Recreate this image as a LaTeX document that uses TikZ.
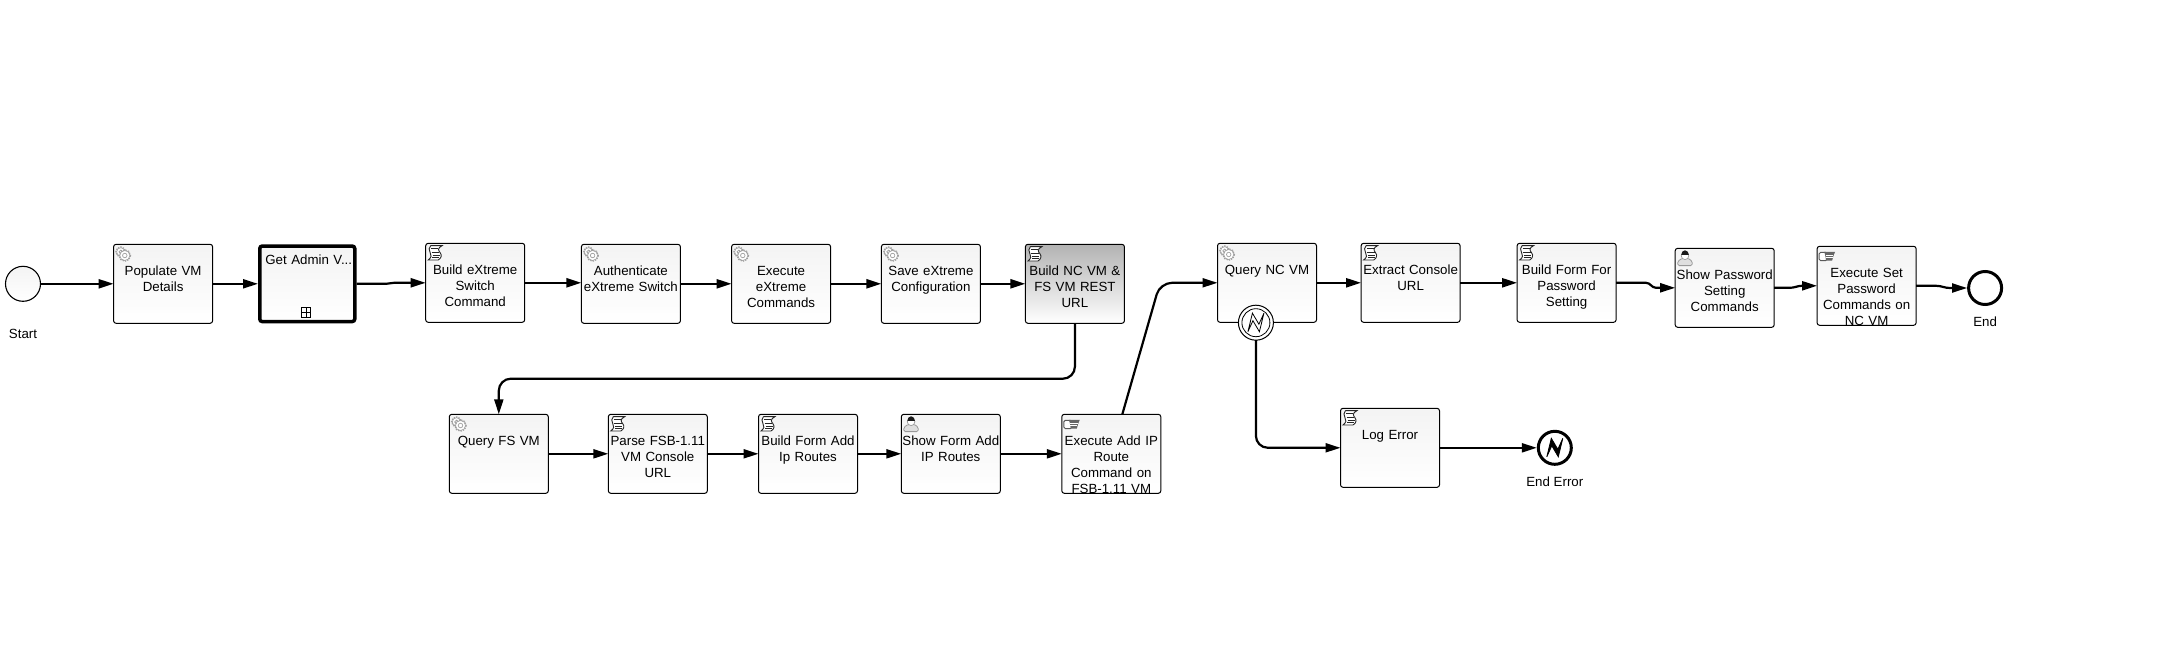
\documentclass[tikz,border=0pt]{standalone}
\usepackage{fontspec}
\setmainfont{Liberation Sans}
\usetikzlibrary{positioning, arrows.meta, calc}

\tikzset{
  pics/gearicon/.style={code={
    \foreach \gx/\gy/\gr in {7.2/7.6/4.2, 11.2/11.2/5} {
      \draw[gray!75,line width=1.5pt,dash pattern=on 1.3pt off 1.1pt] (\gx,\gy) circle (\gr+.6);
      \draw[gray!75,fill=white,line width=.6pt] (\gx,\gy) circle (\gr);
      \draw[gray!75,line width=.7pt] (\gx,\gy) circle (\gr*.45);
    }
  }},
  pics/scripticon/.style={code={
    \draw[black!85,line width=.9pt,fill=white] (5,2.3) -- (16.5,2.3) .. controls (11.5,5) and (12.5,7) .. (14.5,9.5)
      .. controls (16.5,12) and (15.5,15) .. (12.5,16.7) -- (2.5,16.7) .. controls (6,14) and (6,12) .. (4.5,9.5)
      .. controls (3,7) and (3,4) .. (5,2.3);
    \draw[black!85,line width=.9pt] (5.5,5.5) -- (12.5,5.5) (6,9) -- (13.5,9) (7,12) -- (14,12) (6.5,14.5) -- (13.5,14.5);
  }},
  pics/usericon/.style={code={
    \draw[gray!80,fill=gray!25,line width=.8pt,rounded corners=1.5pt] (2.5,17.3) -- (2.5,13) -- (7,10) -- (13,10) -- (17,13) -- (17,17.3) -- cycle;
    \draw[gray!80,fill=white,line width=.7pt] (9.8,7.5) circle (3.8);
    \fill[black!90] (6,6.6) arc (180:360:3.8 and 4.6) -- cycle;
  }},
  pics/sendicon/.style={code={
    \draw[black!65,fill=white,line width=.9pt,rounded corners=1.5pt] (2,6) -- (10,6) -- (10,14.3) -- (2,14.3) -- cycle;
    \fill[black!60] (7,5.5) -- (18,5.5) -- (16.5,9) -- (15,14.3) -- (9,14.3) -- (8,8.5) -- cycle;
    \draw[white,line width=.5pt] (8.5,8.5) -- (16,8.5) (8.5,10.8) -- (15.5,10.8);
  }},
  pics/flashicon/.style={code={
    \draw[black,line width=.8pt,fill=#1] (-8,9) -- (-3.5,-9.5) -- (3,1.5) -- (8,-9.5) -- (3.5,9) -- (-3,-2) -- cycle;
  }},
  pics/plusicon/.style={code={
    \draw[black,line width=.7pt] (-4.8,-4.8) rectangle (4.8,4.8) (-4.8,0) -- (4.8,0) (0,-4.8) -- (0,4.8);
  }}
}

\begin{document}
\begin{tikzpicture}[x=1pt,y=-1pt,
    flow/.style={-{Triangle[length=15pt,width=9pt]},line width=2.2pt},
    tasktext/.style={font=\fontsize{13.3}{16}\selectfont,text width=112pt,align=center,inner sep=0pt,
      minimum width=0pt,minimum height=0pt,anchor=north,rounded corners=0pt},
    task/.style={rectangle,draw,line width=1pt,rounded corners=2.5pt,outer sep=0pt,
      minimum width=99pt,minimum height=79pt,top color=gray!9,bottom color=white,
      path picture={\node[tasktext] at ([yshift=-19.7pt]path picture bounding box.north) {\strut#1};}},
    hottask/.style={task={#1},top color=gray!60,bottom color=white},
    subtask/.style={rectangle,draw,line width=3.5pt,rounded corners=2.5pt,outer sep=1.75pt,
      minimum width=95pt,minimum height=75.5pt,top color=gray!9,bottom color=white,
      path picture={\node[tasktext] at ([xshift=1.5pt,yshift=-5pt]path picture bounding box.north) {\strut#1};}},
    startevent/.style={circle,draw,line width=1.1pt,outer sep=0pt,inner sep=0pt,minimum size=35pt,top color=gray!9,bottom color=white},
    endevent/.style={circle,draw,line width=3pt,outer sep=1.5pt,inner sep=0pt,minimum size=33pt,fill=white},
    catchevent/.style={circle,draw,line width=1pt,outer sep=0pt,inner sep=0pt,minimum size=35pt,fill=white},
    eventtext/.style={font=\fontsize{13.3}{16}\selectfont,inner sep=0pt}]

\useasboundingbox (0,0) rectangle (2159,650);

% first row
\node[startevent]                                           (start)      at (23,283.8) {};
\node[task={Populate VM\\Details}]                          (populate)   [right=73.1pt of start] {};
\node[subtask={Get Admin V...}]                             (getadmin)   [right=45.4pt of populate] {};
\node[task={Build eXtreme\\Switch\\Command}]                (buildswitch) [right=69.2pt of getadmin,yshift=1pt] {};
\node[task={Authenticate\\eXtreme Switch}]                  (authswitch) [right=56.7pt of buildswitch,yshift=-1pt] {};
\node[task={Execute\\eXtreme\\Commands}]                    (execswitch) [right=51.2pt of authswitch] {};
\node[task={Save eXtreme\\Configuration}]                   (saveswitch) [right=50.8pt of execswitch] {};
\node[hottask={Build NC VM \&\\FS VM REST\\URL}]            (buildrest)  [right=45pt of saveswitch] {};

% second row
\node[task={Query FS VM}]                                   (queryfs)    at (498.8,453.8) {};
\node[task={Parse FSB-1.11\\VM Console\\URL}]               (parsefsb)   [right=60pt of queryfs] {};
\node[task={Build Form Add\\Ip Routes}]                     (buildroutes) [right=51.2pt of parsefsb] {};
\node[task={Show Form Add\\IP Routes}]                      (showroutes) [right=43.8pt of buildroutes] {};
\node[task={Execute Add IP\\Route\\Command on\\FSB-1.11 VM}] (execroutes) [right=61.5pt of showroutes] {};

% first row, right part
\node[task={Query NC VM}]                                   (querync)    at (1267,282.8) {};
\node[task={Extract Console\\URL}]                          (extracturl) [right=44.6pt of querync] {};
\node[task={Build Form For\\Password\\Setting}]             (buildpass)  [right=57pt of extracturl] {};
\node[task={Show Password\\Setting\\Commands}]              (showpass)   [right=59.1pt of buildpass,yshift=-5pt] {};
\node[task={Execute Set\\Password\\Commands on\\NC VM}]     (execpass)   [right=42.9pt of showpass,yshift=2pt] {};
\node[endevent]                                             (end)        [right=51pt of execpass,yshift=-2.2pt] {};

% error branch
\node[catchevent]                                           (boundary)   at (1255.9,322.7) {};
\node[task={Log Error}]                                     (logerror)   at (1390,447.8) {};
\node[endevent]                                             (enderror)   [right=97.3pt of logerror] {};

% event labels
\node[eventtext] (starttext) [below=27.7pt of start] {Start};
\node[eventtext] (endtext)   [below=10.5pt of end] {End};
\node[eventtext] (errortext) [below=10.5pt of enderror] {End Error};

% task icons
\pic at (populate.north west) {gearicon};
\pic at (buildswitch.north west) {scripticon};
\pic at (authswitch.north west) {gearicon};
\pic at (execswitch.north west) {gearicon};
\pic at (saveswitch.north west) {gearicon};
\pic at (buildrest.north west) {scripticon};
\pic at (queryfs.north west) {gearicon};
\pic at (parsefsb.north west) {scripticon};
\pic at (buildroutes.north west) {scripticon};
\pic at (showroutes.north west) {usericon};
\pic at (execroutes.north west) {sendicon};
\pic at (querync.north west) {gearicon};
\pic at (extracturl.north west) {scripticon};
\pic at (buildpass.north west) {scripticon};
\pic at (showpass.north west) {usericon};
\pic at (execpass.north west) {sendicon};
\pic at (logerror.north west) {scripticon};
\pic at ([xshift=-1.4pt,yshift=11pt]getadmin.south) {plusicon};
\draw[line width=.8pt] (boundary) circle (14);
\pic at (boundary) {flashicon=white};
\pic at (enderror) {flashicon=black};

% bends and jogs
\coordinate (fsbend) at (800,378.7);
\coordinate (ncbend) at (1160,282.8);
\coordinate (joga) at (386,283.8);
\coordinate (jogb) at (394,282.8);
\coordinate (jogc) at (1646,282.8);
\coordinate (jogd) at (1656,287.8);
\coordinate (joge) at (1790,287.8);
\coordinate (jogf) at (1802,285.8);
\coordinate (jogg) at (1936,285.8);
\coordinate (jogh) at (1950,288);

\draw[flow] (start) -- (populate);
\draw[flow] (populate) -- (getadmin);
\draw[flow] (getadmin.east |- joga) -- (joga) to[out=0,in=180] (jogb) -- (buildswitch.west);
\draw[flow] (buildswitch.east) -- (buildswitch.east -| authswitch.west);
\draw[flow] (authswitch) -- (execswitch);
\draw[flow] (execswitch) -- (saveswitch);
\draw[flow] (saveswitch) -- (buildrest);
\draw[flow,rounded corners=12pt] (buildrest.south) |- (fsbend) -| (queryfs.north);
\draw[flow] (queryfs) -- (parsefsb);
\draw[flow] (parsefsb) -- (buildroutes);
\draw[flow] (buildroutes) -- (showroutes);
\draw[flow] (showroutes) -- (execroutes);
\draw[flow,rounded corners=12pt] ([xshift=11pt]execroutes.north) -- (ncbend) -- (querync.west);
\draw[flow] (querync) -- (extracturl);
\draw[flow] (extracturl) -- (buildpass);
\draw[flow] (buildpass.east) -- (jogc) to[out=0,in=180] (jogd) -- (showpass.west);
\draw[flow] (showpass.east) -- (joge) to[out=0,in=180] (jogf) -- (execpass.west);
\draw[flow] (execpass.east) -- (jogg) to[out=0,in=180] (jogh) -- (end.west);
\draw[flow,rounded corners=12pt] (boundary.south) |- (logerror.west);
\draw[flow] (logerror) -- (enderror);

\end{tikzpicture}
\end{document}
